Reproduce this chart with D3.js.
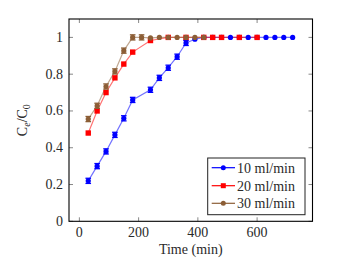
<!DOCTYPE html>
<html>
<head>
<meta charset="utf-8">
<script src="https://cdn.jsdelivr.net/npm/d3@7"></script>
<style>
  body { margin: 0; background: #fff; }
</style>
</head>
<body>
<svg></svg>
<script>
// series
var time10 = [30, 60, 90, 120, 150, 180, 240, 270, 300, 330, 360, 390, 420, 450, 480, 510, 540, 570, 600, 630, 660, 690, 720]
var conc10 = [0.22, 0.30, 0.38, 0.47, 0.56, 0.66, 0.715, 0.78, 0.835, 0.895, 0.97, 0.99, 1, 1, 1, 1, 1, 1, 1, 1, 1, 1, 1]
var err10  = [0.014, 0.014, 0.014, 0.014, 0.014, 0.014, 0.014, 0.014, 0.014, 0.014, 0.014, 0, 0, 0, 0, 0, 0, 0, 0, 0, 0, 0, 0]

var time20 = [30, 60, 90, 120, 150, 180, 240, 300, 360, 420, 450, 480, 540, 600]
var conc20 = [0.48, 0.60, 0.70, 0.78, 0.855, 0.92, 0.983, 1, 1, 1, 1, 1, 1, 1]

var time30 = [30, 60, 90, 120, 150, 180, 210, 240, 270, 300, 330, 360, 390, 420]
var conc30 = [0.556, 0.628, 0.733, 0.815, 0.928, 1.0, 1.0, 0.997, 1, 1, 1, 1, 1, 1]
var err30  = [0.014, 0.014, 0.014, 0.014, 0.014, 0.014, 0.014, 0, 0, 0, 0, 0, 0, 0]

var legendLabels = ["10 ml/min", "20 ml/min", "30 ml/min"]
var xTicks = [0, 200, 400, 600]
var yTicks = [0, 0.2, 0.4, 0.6, 0.8, 1]

var W = 341, H = 267
var pLeft = 69, pRight = 312.5, pTop = 19, pBottom = 221.3
var serif = "Liberation Serif"
var textCol = "#2a2a2a"

var svg = d3.select("svg").attr("width", W).attr("height", H)

var xScale = d3.scaleLinear().domain([-35, 787]).range([pLeft, pRight])
var yScale = d3.scaleLinear().domain([0, 1.1]).range([pBottom, pTop])

var series = [
  { x: time10, y: conc10, err: err10, color: "#0000ff", shape: "circle" },
  { x: time20, y: conc20, err: null, color: "#ff0000", shape: "square" },
  { x: time30, y: conc30, err: err30, color: "#8c5e36", shape: "circle" }
]

function addText(parent, x, y, str, anchor) {
  return parent.append("text").attr("x", x).attr("y", y)
    .attr("text-anchor", anchor || "start")
    .attr("font-family", serif).attr("font-size", 14).attr("fill", textCol)
    .text(str)
}

// ticks (inward, all four sides)
var tickCol = "#888"
var tl = 4
var ticks = svg.append("g")
xTicks.forEach(function(t) {
  var x = xScale(t)
  ticks.append("line").attr("x1", x).attr("x2", x).attr("y1", pBottom).attr("y2", pBottom - tl).attr("stroke", tickCol)
  ticks.append("line").attr("x1", x).attr("x2", x).attr("y1", pTop).attr("y2", pTop + tl).attr("stroke", tickCol)
  addText(svg, x, 236.5, t, "middle")
})
yTicks.forEach(function(t) {
  var y = yScale(t)
  ticks.append("line").attr("x1", pLeft).attr("x2", pLeft + tl).attr("y1", y).attr("y2", y).attr("stroke", tickCol)
  ticks.append("line").attr("x1", pRight).attr("x2", pRight - tl).attr("y1", y).attr("y2", y).attr("stroke", tickCol)
  addText(svg, 63, y + 4.5, t, "end")
})

// lines
var line = d3.line().x(function(d) { return xScale(d[0]) }).y(function(d) { return yScale(d[1]) })

series.forEach(function(s) {
  var pts = s.x.map(function(v, i) { return [v, s.y[i]] })
  svg.append("path").datum(pts).attr("d", line)
    .attr("fill", "none").attr("stroke", s.color).attr("stroke-opacity", 0.55).attr("stroke-width", 1.2)
})

series.forEach(function(s) {
  var g = svg.append("g")
  s.x.forEach(function(v, i) {
    var cx = xScale(v), cy = yScale(s.y[i])
    if (s.err && s.err[i] > 0) {
      var y1 = yScale(s.y[i] - s.err[i]), y2 = yScale(s.y[i] + s.err[i])
      g.append("line").attr("x1", cx).attr("x2", cx).attr("y1", y1).attr("y2", y2).attr("stroke", s.color)
      g.append("line").attr("x1", cx - 2.8).attr("x2", cx + 2.8).attr("y1", y1).attr("y2", y1).attr("stroke", s.color).attr("stroke-width", 1.3)
      g.append("line").attr("x1", cx - 2.8).attr("x2", cx + 2.8).attr("y1", y2).attr("y2", y2).attr("stroke", s.color).attr("stroke-width", 1.3)
    }
    if (s.shape == "square") {
      g.append("rect").attr("x", cx - 2.7).attr("y", cy - 2.7).attr("width", 5.4).attr("height", 5.4).attr("fill", s.color)
    } else {
      g.append("circle").attr("cx", cx).attr("cy", cy).attr("r", 2.6).attr("fill", s.color)
    }
  })
})

// frame
svg.append("rect").attr("x", pLeft).attr("y", pTop).attr("width", pRight - pLeft).attr("height", pBottom - pTop)
  .attr("fill", "none").attr("stroke", "#000").attr("stroke-width", 1.1)

// axis labels
addText(svg, (pLeft + pRight) / 2, 254, "Time (min)", "middle")

var yl = svg.append("text").attr("transform", "translate(27," + ((pTop + pBottom) / 2) + ") rotate(-90)")
  .attr("text-anchor", "middle").attr("font-family", serif).attr("font-size", 14).attr("fill", textCol)
yl.append("tspan").text("C")
yl.append("tspan").attr("dy", 3).attr("font-size", 10).attr("font-style", "italic").text("e")
yl.append("tspan").attr("dy", -3).text("/C")
yl.append("tspan").attr("dy", 3).attr("font-size", 10).text("0")

// legend
var lg = svg.append("g")
lg.append("rect").attr("x", 207.7).attr("y", 158).attr("width", 97.3).attr("height", 56.7)
  .attr("fill", "#fff").attr("stroke", "#222").attr("stroke-width", 1)
var rowY = [167.7, 185.7, 203.3]
series.forEach(function(s, i) {
  var y = rowY[i]
  lg.append("line").attr("x1", 211.7).attr("x2", 235).attr("y1", y).attr("y2", y).attr("stroke", s.color).attr("stroke-width", 1.2)
  if (s.shape == "square") {
    lg.append("rect").attr("x", 223.3 - 2.5).attr("y", y - 2.5).attr("width", 5).attr("height", 5).attr("fill", s.color)
  } else {
    lg.append("circle").attr("cx", 223.3).attr("cy", y).attr("r", 2.5).attr("fill", s.color)
  }
  addText(lg, 237, y + 4.8, legendLabels[i])
})
</script>
</body>
</html>
